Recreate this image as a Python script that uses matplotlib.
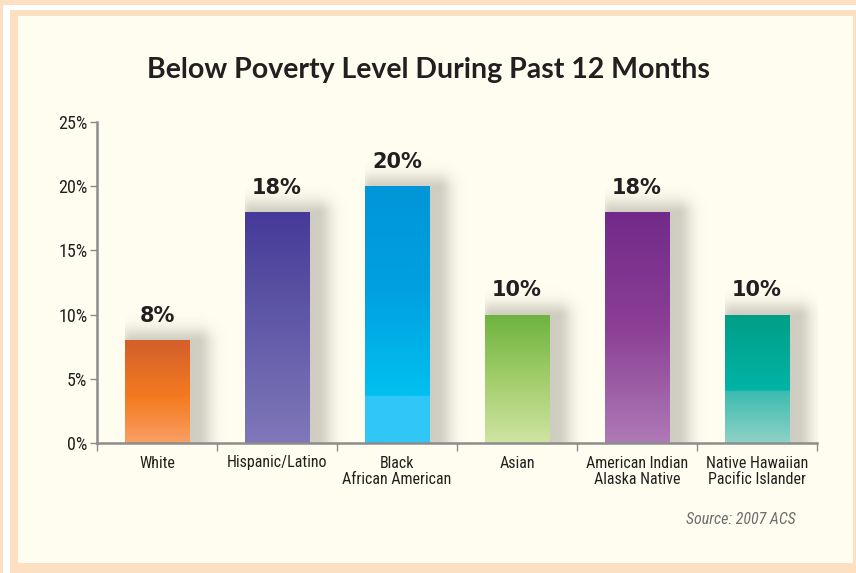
import numpy as np
import matplotlib.pyplot as plt
from matplotlib.colors import LinearSegmentedColormap, to_rgb
from matplotlib.patches import Rectangle

categories = ['White', 'Hispanic/Latino', 'Black\nAfrican American', 'Asian',
              'American Indian\nAlaska Native', 'Native Hawaiian\nPacific Islander']
values = [8, 18, 20, 10, 18, 10]
value_labels = ['8%', '18%', '20%', '10%', '18%', '10%']
yticks = [0, 5, 10, 15, 20, 25]
ytick_labels = ['0%', '5%', '10%', '15%', '20%', '25%']
title = 'Below Poverty Level During Past 12 Months'
source = 'Source: 2007 ACS'

# gradient stops for each bar, bottom -> top
bar_grads = [
    [(0.0, '#f9a066'), (0.25, '#f68a3c'), (0.45, '#f47a20'), (1.0, '#d35f2b')],
    [(0.0, '#8078b9'), (0.5, '#625aa8'), (1.0, '#453a98')],
    [(0.0, '#30c6f5'), (0.18, '#30c6f5'), (0.185, '#00c0f0'), (0.6, '#00a0de'), (1.0, '#0096d8')],
    [(0.0, '#cfe4a2'), (0.5, '#a2cd6b'), (1.0, '#6db33f')],
    [(0.0, '#ae7ab6'), (0.5, '#8b3f95'), (1.0, '#722a8a')],
    [(0.0, '#8ed2c6'), (0.4, '#3cbcb0'), (0.41, '#00b4a6'), (1.0, '#009e86')],
]

CREAM = '#fffdf0'
PEACH = '#fde0c2'
GREY = '#8c8c8c'
W, H = 856, 573
narrow = ['Roboto Condensed', 'Liberation Sans Narrow', 'Roboto', 'DejaVu Sans']

fig = plt.figure(figsize=(W / 100, H / 100), dpi=100)
fig.patch.set_facecolor(PEACH)


def frame(x0, y0, x1, y1, color):
    fig.patches.append(Rectangle((x0 / W, 1 - y1 / H), (x1 - x0) / W, (y1 - y0) / H,
                                 transform=fig.transFigure, facecolor=color,
                                 edgecolor='none', zorder=-10))


frame(3, 5, W + 5, H + 5, 'white')
frame(10, 10, W + 5, H + 5, PEACH)
frame(18, 16, 853, 563, CREAM)

ax = fig.add_axes([97 / W, 1 - 443 / H, 720 / W, 321 / H])
ax.set_facecolor('none')

x = np.arange(len(categories))
bw = 0.54
bars = ax.bar(x, values, width=bw, color='none', zorder=3)

pxx = 120.0   # pixels per x unit
pxy = 321 / 25.0  # pixels per y unit

for b, stops in zip(bars, bar_grads):
    x0 = b.get_x()
    x1 = x0 + b.get_width()
    h = b.get_height()
    # soft shadow to the right
    sx0, sx1 = x0, x1 + 0.45
    sy1 = h + 2.5
    gx = np.linspace(sx0, sx1, 120)
    gy = np.linspace(0, sy1, 200)
    XX, YY = np.meshgrid(gx, gy)
    rx0, rx1 = x0 + 8 / pxx, x1 + 8 / pxx
    ry1 = h - 2.0 / pxy
    dx = np.maximum(np.maximum(rx0 - XX, XX - rx1), 0) * pxx
    dy = np.maximum(YY - ry1, 0) * pxy
    d = np.hypot(dx, dy)
    alpha = 0.42 * np.exp(-(d / 14.0) ** 2)
    rgba = np.zeros(XX.shape + (4,))
    rgba[..., :3] = to_rgb('#8e8c80')
    rgba[..., 3] = alpha
    ax.imshow(rgba, extent=[sx0, sx1, 0, sy1], origin='lower', aspect='auto',
              interpolation='bilinear', zorder=2)
    # gradient fill clipped to the bar
    cmap = LinearSegmentedColormap.from_list('g', stops)
    grad = np.linspace(0, 1, 256).reshape(-1, 1)
    im = ax.imshow(grad, cmap=cmap, extent=[x0, x1, 0, h], origin='lower',
                   aspect='auto', interpolation='bilinear', zorder=3)
    im.set_clip_path(b)

for xi, v, lab in zip(x, values, value_labels):
    ax.text(xi, v + 1.1, lab, ha='center', va='bottom', fontsize=15,
            fontweight='bold', color='#231f20', family='DejaVu Sans', zorder=5)

ax.set_xlim(-0.5, len(categories) - 0.5)
ax.set_ylim(0, 25)

for s in ['top', 'right']:
    ax.spines[s].set_visible(False)
for s in ['left', 'bottom']:
    ax.spines[s].set_color(GREY)
    ax.spines[s].set_linewidth(1.8)
    ax.spines[s].set_zorder(6)

ax.set_yticks(yticks)
ax.set_yticklabels(ytick_labels, family=narrow, fontsize=13, color='#231f20')
ax.tick_params(axis='y', direction='out', length=5, width=1, color=GREY, pad=2)

ax.set_xticks(np.arange(-0.5, len(categories), 1.0))
ax.set_xticklabels([])
ax.tick_params(axis='x', which='major', direction='out', length=6, width=1, color=GREY)
ax.set_xticks(x, minor=True)
ax.set_xticklabels(categories, minor=True, family=narrow, fontsize=11.5,
                   color='#231f20', linespacing=1.1)
ax.tick_params(axis='x', which='minor', length=0, pad=9)

fig.text(428 / W, 1 - 70 / H, title, ha='center', va='center', fontsize=20.5,
         fontweight='bold', family=['Lato', 'DejaVu Sans'], color='#231f20')
fig.text(796 / W, 1 - 520 / H, source, ha='right', va='center', fontsize=11.5,
         style='italic', family=narrow, color='#6d6d6d')

fig.savefig('out.png', dpi=100, facecolor=fig.get_facecolor())
